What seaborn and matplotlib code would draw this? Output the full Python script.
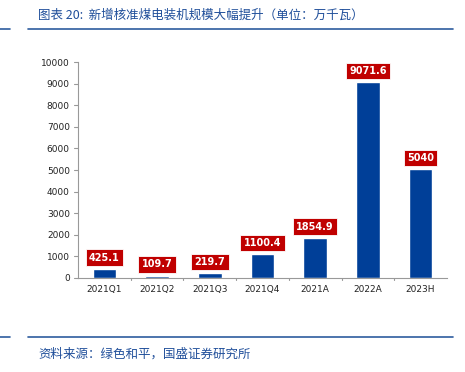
import matplotlib
matplotlib.use("Agg")
import matplotlib.pyplot as plt
from matplotlib.lines import Line2D
import pandas as pd
import seaborn as sns

periodos = ["2021Q1", "2021Q2", "2021Q3", "2021Q4", "2021A", "2022A", "2023H"]
capacidade = [425.1, 109.7, 219.7, 1100.4, 1854.9, 9071.6, 5040]
rotulos = ["425.1", "109.7", "219.7", "1100.4", "1854.9", "9071.6", "5040"]
y_ticks = list(range(0, 10001, 1000))

titulo = "图表 20:  新增核准煤电装机规模大幅提升（单位：万千瓦）"
fonte = "资料来源：绿色和平，国盛证券研究所"

sns.set_theme(style="white")
plt.rcParams["font.family"] = ["DejaVu Sans", "Noto Sans CJK SC"]

df = pd.DataFrame({"Periodo": periodos, "Valor": capacidade})

fig = plt.figure(figsize=(4.65, 3.72), dpi=100)
ax = fig.add_axes([0.168, 0.253, 0.793, 0.580])

sns.barplot(data=df, x="Periodo", y="Valor", color="#003F98", width=0.45,
            saturation=1, ax=ax)

for i, (v, txt) in enumerate(zip(capacidade, rotulos)):
    ax.annotate(txt, (i, v), xytext=(0, 8), textcoords="offset points",
                ha="center", va="center", color="white", fontsize=7,
                fontweight="bold",
                bbox=dict(boxstyle="square,pad=0.35", fc="#C00000", ec="white", lw=0.6))

ax.set_ylim(0, 10000)
ax.set_xlim(-0.5, len(periodos) - 0.5)
ax.set_yticks(y_ticks)
ax.set_xlabel("")
ax.set_ylabel("")
ax.tick_params(axis="both", labelsize=6.5, colors="#222222", length=0)
ax.tick_params(axis="y", pad=6)
ax.tick_params(axis="x", pad=5)
ax.set_xticks(range(len(periodos)))
ax.set_xticklabels(periodos)
for s in ["top", "right"]:
    ax.spines[s].set_visible(False)
for s in ["left", "bottom"]:
    ax.spines[s].set_color("#999999")
    ax.spines[s].set_linewidth(0.8)

# ticks between categories on x and small ticks on y
for k in range(1, len(periodos)):
    ax.plot([k - 0.5, k - 0.5], [0, -120], color="#999999", lw=0.8, clip_on=False)
for t in y_ticks:
    ax.plot([-0.5, -0.58], [t, t], color="#999999", lw=0.8, clip_on=False)

azul = "#2E5C9E"
fig.text(38 / 465, 1 - 15 / 372, titulo, fontsize=9, color="#1F4E9A", va="center",
         style="italic", family=["Noto Sans CJK SC", "DejaVu Sans"])
fig.add_artist(Line2D([28 / 465, 453 / 465], [1 - 29 / 372] * 2, color=azul, lw=1.2))
fig.add_artist(Line2D([0, 10 / 465], [1 - 29 / 372] * 2, color=azul, lw=1.2))
fig.add_artist(Line2D([28 / 465, 453 / 465], [1 - 337 / 372] * 2, color=azul, lw=1.2))
fig.add_artist(Line2D([0, 10 / 465], [1 - 337 / 372] * 2, color=azul, lw=1.2))
fig.text(38 / 465, 1 - 354 / 372, fonte, fontsize=9, color="#1F4E9A", va="center",
         style="italic", family=["Noto Sans CJK SC", "DejaVu Sans"])

fig.savefig("out.png", dpi=100)
